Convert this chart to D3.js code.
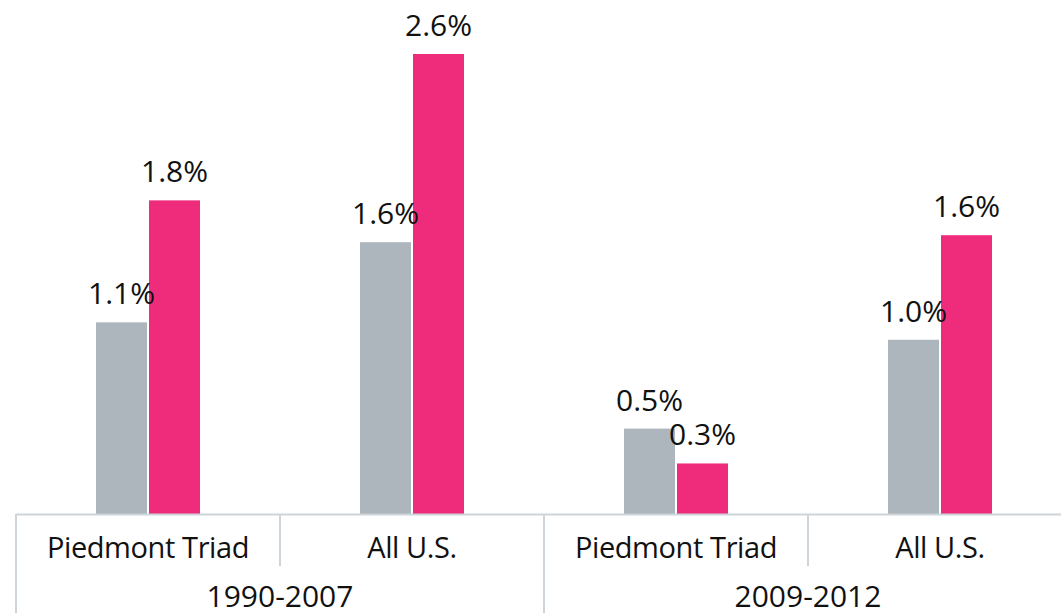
<!DOCTYPE html>
<html>
<head>
<meta charset="utf-8" />
<title>Growth chart</title>
<script src="https://d3js.org/d3.v7.min.js"></script>
<style>
  body { margin: 0; background: #fff; }
  text { font-family: "Open Sans", "Noto Sans", sans-serif; fill: #111; }
</style>
</head>
<body>
<svg id="chart"></svg>
<script>
// data
var periods = ['1990-2007', '2009-2012']
var regions = ['Piedmont Triad', 'All U.S.']
var grayVals = [1.10, 1.56, 0.49, 1.00]
var pinkVals = [1.80, 2.64, 0.29, 1.60]

var W = 1061, H = 613
var baseY = 514
var left = 16, catW = 264

var svg = d3.select('#chart').attr('width', W).attr('height', H)

// one slot per region inside each period
var cats = []
periods.forEach(function (p) {
  regions.forEach(function (r) { cats.push(p + '|' + r) })
})

var x = d3.scaleBand().domain(cats).range([left, left + catW * cats.length])
var y = d3.scaleLinear().domain([0, 2.95]).range([baseY, 0])
var barW = 51

var rows = cats.map(function (c, i) {
  return { key: c, region: c.split('|')[1], g: grayVals[i], p: pinkVals[i] }
})

var gBars = svg.append('g')
rows.forEach(function (d) {
  var cx = x(d.key) + x.bandwidth() / 2
  gBars.append('rect')
    .attr('x', cx - barW - 1).attr('y', y(d.g))
    .attr('width', barW).attr('height', baseY - y(d.g))
    .attr('fill', '#adb6bd')
  gBars.append('rect')
    .attr('x', cx + 1).attr('y', y(d.p))
    .attr('width', barW).attr('height', baseY - y(d.p))
    .attr('fill', '#ef2b7b')
  gBars.append('text')
    .attr('x', cx - barW / 2 - 1).attr('y', y(d.g) - 18)
    .attr('text-anchor', 'middle').style('font-size', '30px')
    .text(d.g.toFixed(1) + '%')
  gBars.append('text')
    .attr('x', cx + barW / 2 + 1).attr('y', y(d.p) - 18)
    .attr('text-anchor', 'middle').style('font-size', '30px')
    .text(d.p.toFixed(1) + '%')
})

// axis: baseline and category separators
var lineCol = '#cdd4da'
svg.append('line')
  .attr('x1', left).attr('x2', W).attr('y1', baseY + 0.5).attr('y2', baseY + 0.5)
  .attr('stroke', lineCol).attr('stroke-width', 2)

cats.forEach(function (c, i) {
  var xx = x(c)
  var full = i % regions.length == 0
  svg.append('line')
    .attr('x1', xx).attr('x2', xx)
    .attr('y1', baseY).attr('y2', full ? H : 566)
    .attr('stroke', lineCol).attr('stroke-width', 2)
  svg.append('text')
    .attr('x', xx + x.bandwidth() / 2).attr('y', 558)
    .attr('text-anchor', 'middle').style('font-size', '29px')
    .style('letter-spacing', '-0.4px')
    .text(c.split('|')[1])
})

periods.forEach(function (p) {
  var x0 = x(p + '|' + regions[0])
  var x1 = x(p + '|' + regions[regions.length - 1]) + x.bandwidth()
  svg.append('text')
    .attr('x', (x0 + x1) / 2).attr('y', 607)
    .attr('text-anchor', 'middle').style('font-size', '30px')
    .text(p)
})
</script>
</body>
</html>
